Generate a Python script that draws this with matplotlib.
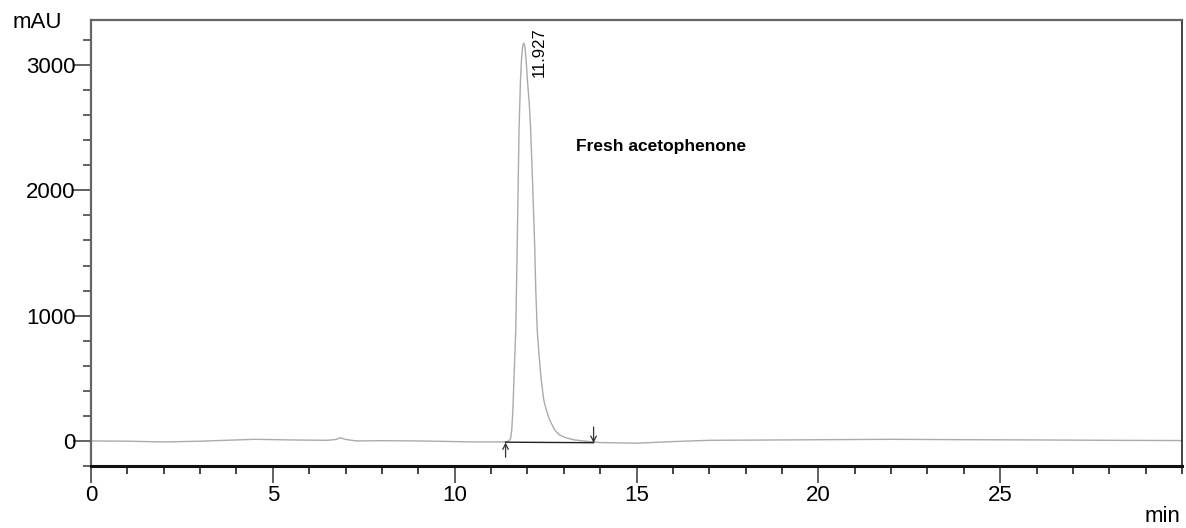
import matplotlib
matplotlib.use("Agg")
import matplotlib.pyplot as plt
from matplotlib.ticker import MultipleLocator

plt.rcParams['font.family'] = ['Liberation Sans', 'DejaVu Sans']

# Chromatogram trace (time in min, signal in mAU)
time_min = [0.0, 1.0, 2.0, 3.0, 4.5, 5.5, 6.5, 6.75, 6.85, 7.0, 7.3, 8.0, 9.0,
            10.0, 10.5, 11.0, 11.30, 11.45, 11.52, 11.54, 11.57, 11.60, 11.63,
            11.68, 11.72, 11.77, 11.81, 11.84, 11.87, 11.90, 11.93, 11.96,
            12.00, 12.05, 12.09, 12.14, 12.20, 12.23, 12.27, 12.32, 12.38,
            12.45, 12.52, 12.61, 12.75, 12.88, 13.07, 13.30,
            13.6, 14.0, 15.0, 16.0, 17.0, 19.0, 22.0, 24.0, 26.0, 28.0, 30.0]
signal_mau = [0, -2, -8, -2, 13, 8, 5, 12, 26, 12, 0, 2, 0,
              -5, -8, -8, -8, -5, 10, 24, 88, 247, 487,
              886, 1560, 2482, 2881, 3060, 3150, 3176, 3150, 3060,
              2881, 2700, 2482, 2083, 1560, 1205, 886, 686, 487,
              327, 247, 168, 88, 48, 24, 8,
              -2, -13, -18, -5, 5, 8, 13, 10, 8, 5, 3]

peak_rt = 11.927
peak_label = "11.927"
label_top = 3300
baseline_start = (11.40, -10)
baseline_end = (13.82, -14)
sample_name = "Fresh acetophenone"

fig = plt.figure(figsize=(11.86, 5.28), dpi=100)
ax = fig.add_axes([91/1186, 62/528, (1182-91)/1186, (466-20)/528])

ax.plot(time_min, signal_mau, color='#ababab', lw=1.0)
ax.plot([baseline_start[0], baseline_end[0]], [baseline_start[1], baseline_end[1]],
        color='#222222', lw=1.0)
ax.annotate('', xy=(baseline_start[0], baseline_start[1] - 2),
            xytext=(baseline_start[0], baseline_start[1] - 120),
            arrowprops=dict(arrowstyle='->', color='#333333', lw=0.9, shrinkA=0, shrinkB=0))
ax.annotate('', xy=(baseline_end[0], baseline_end[1] - 2),
            xytext=(baseline_end[0], baseline_end[1] + 125),
            arrowprops=dict(arrowstyle='->', color='#333333', lw=0.9, shrinkA=0, shrinkB=0))

ax.text(peak_rt + 0.39, label_top, peak_label, rotation=90,
        ha='center', va='top', fontsize=12)
ax.text(13.35, 2350, sample_name, fontsize=12.5, fontweight='bold',
        ha='left', va='center')

ax.set_xlim(0, 30)
ax.set_ylim(-200, 3360)
ax.xaxis.set_major_locator(MultipleLocator(5))
ax.xaxis.set_minor_locator(MultipleLocator(1))
ax.yaxis.set_major_locator(MultipleLocator(1000))
ax.yaxis.set_minor_locator(MultipleLocator(200))
ax.set_xticks([0, 5, 10, 15, 20, 25])

ax.tick_params(axis='x', which='major', direction='out', length=12, width=1.3,
               color='#555555', labelsize=16, pad=2)
ax.tick_params(axis='x', which='minor', direction='out', length=6, width=1.3,
               color='#333333')
ax.tick_params(axis='y', which='major', direction='out', length=13, width=1.3,
               color='#555555', labelsize=16, pad=-2)
ax.tick_params(axis='y', which='minor', direction='out', length=6, width=1.3,
               color='#555555')

for side in ['left', 'top']:
    ax.spines[side].set_color('#666666')
    ax.spines[side].set_linewidth(1.6)
ax.spines['bottom'].set_color('#111111')
ax.spines['bottom'].set_linewidth(2.2)
ax.spines['right'].set_color('#222222')
ax.spines['right'].set_linewidth(1.2)

fig.text(13/1186, 1 - 22/528, 'mAU', fontsize=16, ha='left', va='center')
fig.text(1180/1186, 1 - 517/528, 'min', fontsize=16, ha='right', va='center')

fig.savefig('out.png', dpi=100)
